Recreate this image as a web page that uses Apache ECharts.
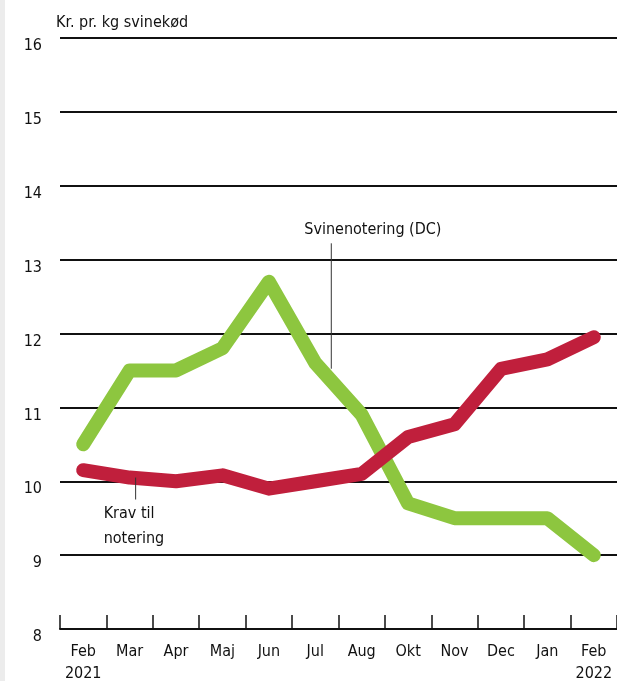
<!DOCTYPE html>
<html>
<head>
<meta charset="utf-8">
<script src="https://cdn.jsdelivr.net/npm/echarts@6/dist/echarts.min.js"></script>
<style>
  html, body { margin: 0; padding: 0; background: #fff; }
  #chart { width: 617px; height: 681px; }
</style>
</head>
<body>
<div id="chart"></div>
<script>
// maaneder (ingen september i kilden)
var months = ['Feb\n2021', 'Mar', 'Apr', 'Maj', 'Jun', 'Jul', 'Aug', 'Okt', 'Nov', 'Dec', 'Jan', 'Feb\n2022'];
var svinenotering = [10.5, 11.5, 11.5, 11.8, 12.7, 11.6, 10.9, 9.7, 9.5, 9.5, 9.5, 9.0];
var kravTilNotering = [10.15, 10.05, 10.0, 10.08, 9.9, 10.0, 10.1, 10.6, 10.77, 11.52, 11.65, 11.95];
var yTicks = { min: 8, max: 16, step: 1 };

var font = "'Liberation Sans Narrow', 'DejaVu Sans Condensed', 'Roboto', sans-serif";
var ink = '#111';

var chart = echarts.init(document.getElementById('chart'));

chart.setOption({
	animation: false,
	textStyle: { fontFamily: font },
	grid: { left: 60, right: 0, top: 38, bottom: 52, containLabel: false, outerBoundsMode: 'none' },
	xAxis: {
		type: 'category',
		data: months,
		boundaryGap: true,
		axisLine: { show: true, lineStyle: { color: ink, width: 2 } },
		axisTick: { show: true, inside: true, length: 14, interval: 0, lineStyle: { color: ink, width: 1.5 } },
		axisLabel: {
			color: ink, fontSize: 16, margin: 12, lineHeight: 22,
			fontFamily: font, interval: 0
		},
		splitLine: { show: false }
	},
	yAxis: {
		type: 'value',
		min: yTicks.min,
		max: yTicks.max,
		interval: yTicks.step,
		name: 'Kr. pr. kg svinekød',
		nameLocation: 'end',
		nameGap: 7,
		nameTextStyle: { color: ink, fontSize: 16, align: 'left', fontFamily: font, padding: [0, 0, 0, -4] },
		axisLine: { show: false },
		axisTick: { show: false },
		axisLabel: { color: ink, fontSize: 16, margin: 18, fontFamily: font, verticalAlign: 'top' },
		splitLine: { lineStyle: { color: ink, width: 2 } }
	},
	series: [{
		name: 'Svinenotering (DC)',
		type: 'line',
		data: svinenotering,
		symbol: 'none',
		z: 3,
		lineStyle: { color: '#8dc63f', width: 14, cap: 'round', join: 'round' }
	}, {
		name: 'Krav til notering',
		type: 'line',
		data: kravTilNotering,
		symbol: 'none',
		z: 4,
		lineStyle: { color: '#c01f3c', width: 14, cap: 'round', join: 'round' }
	}]
});

// etiketter med streg, placeret ud fra dataskalaen
var pGreen = chart.convertToPixel({ seriesIndex: 0 }, [5, 12.95]);
var pGreenEnd = chart.convertToPixel({ seriesIndex: 0 }, [5, 11.55]);
var pRed = chart.convertToPixel({ seriesIndex: 1 }, [1, 10.05]);
var pRedEnd = chart.convertToPixel({ seriesIndex: 1 }, [1, 9.78]);
var gx = pGreen[0] + 16;
var rx = pRed[0] - 8;

chart.setOption({
	graphic: [
		{ type: 'rect', left: 0, top: 0, shape: { width: 5, height: 681 }, style: { fill: '#ececec' }, silent: true },
		{ type: 'line', shape: { x1: gx, y1: pGreen[1] - 20, x2: gx, y2: pGreenEnd[1] + 2 }, style: { stroke: '#333', lineWidth: 1 }, z: 10 },
		{ type: 'text', x: gx - 27, y: pGreen[1] - 41, style: { text: 'Svinenotering (DC)', font: '16px ' + font, fill: ink }, z: 10 },
		{ type: 'line', shape: { x1: rx + 14, y1: pRed[1], x2: rx + 14, y2: pRedEnd[1] + 2 }, style: { stroke: '#333', lineWidth: 1 }, z: 10 },
		{ type: 'text', x: rx - 18, y: pRedEnd[1] + 4, style: { text: 'Krav til\nnotering', font: '16px ' + font, fill: ink, lineHeight: 25 }, z: 10 }
	]
});
</script>
</body>
</html>
